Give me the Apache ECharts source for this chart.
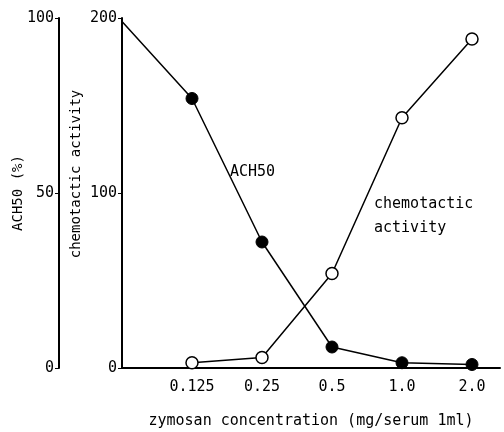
<!DOCTYPE html>
<html>
<head>
<meta charset="utf-8">
<script src="https://cdn.jsdelivr.net/npm/echarts@6/dist/echarts.min.js"></script>
<style>
  html, body { margin: 0; padding: 0; background: #fff; }
  #chart { width: 504px; height: 432px; }
</style>
</head>
<body>
<div id="chart"></div>
<script>
// x positions: 0 = no zymosan, 1..5 = the concentrations below
var concentrations = ['0.125', '0.25', '0.5', '1.0', '2.0'];
var ach50X = [0, 1, 2, 3, 4, 5];
var ach50 = [99, 77, 36, 6, 1.5, 1];
var chemoX = [1, 2, 3, 4, 5];
var chemotactic = [3, 6, 54, 143, 188];

var font = '"DejaVu Sans Mono", monospace';

var chart = echarts.init(document.getElementById('chart'));

var ach50Data = ach50X.map(function(x, i) {
    var item = { value: [x, ach50[i]] };
    if (x === 0) item.symbol = 'none';
    return item;
});
var chemoData = chemoX.map(function(x, i) {
    return [x, chemotactic[i]];
});

var axisLine = { show: true, lineStyle: { color: '#000', width: 2 } };

chart.setOption({
    animation: false,
    grid: { left: 122, right: 4, top: 18, bottom: 64, containLabel: false, outerBoundsMode: 'none' },
    xAxis: {
        type: 'value',
        min: 0,
        max: 5.4,
        interval: 1,
        axisLine: axisLine,
        axisTick: { show: false },
        splitLine: { show: false },
        axisLabel: {
            color: '#000',
            fontFamily: font,
            fontSize: 15,
            margin: 12,
            formatter: function(v) {
                if (v >= 1 && v <= 5 && v === Math.round(v)) return concentrations[v - 1];
                return '';
            }
        },
        name: 'zymosan concentration (mg/serum 1ml)',
        nameLocation: 'middle',
        nameGap: 46,
        nameMoveOverlap: false,
        nameTextStyle: { color: '#000', fontFamily: font, fontSize: 15 }
    },
    yAxis: [{
        type: 'value',
        min: 0,
        max: 200,
        interval: 100,
        position: 'left',
        axisLine: axisLine,
        axisTick: { show: true, length: 4, lineStyle: { color: '#000', width: 1 } },
        splitLine: { show: false },
        axisLabel: { color: '#000', fontFamily: font, fontSize: 15, margin: 5 },
        name: 'chemotactic activity',
        nameLocation: 'middle',
        nameGap: 39,
        nameMoveOverlap: false,
        nameTextStyle: { color: '#000', fontFamily: font, fontSize: 14, padding: [0, 0, 0, 38] }
    }, {
        type: 'value',
        min: 0,
        max: 100,
        interval: 50,
        position: 'left',
        offset: 63,
        axisLine: axisLine,
        axisTick: { show: true, length: 4, lineStyle: { color: '#000', width: 1 } },
        splitLine: { show: false },
        axisLabel: { color: '#000', fontFamily: font, fontSize: 15, margin: 5 },
        name: 'ACH50 (%)',
        nameLocation: 'middle',
        nameGap: 34,
        nameMoveOverlap: false,
        nameTextStyle: { color: '#000', fontFamily: font, fontSize: 14 }
    }],
    series: [{
        name: 'ACH50',
        type: 'line',
        yAxisIndex: 1,
        data: ach50Data,
        symbol: 'circle',
        symbolSize: 12,
        showAllSymbol: true,
        lineStyle: { color: '#000', width: 1.5 },
        itemStyle: { color: '#000', borderColor: '#000', borderWidth: 1 }
    }, {
        name: 'chemotactic activity',
        type: 'line',
        yAxisIndex: 0,
        data: chemoData,
        symbol: 'circle',
        symbolSize: 12,
        showAllSymbol: true,
        lineStyle: { color: '#000', width: 1.5 },
        itemStyle: { color: '#fff', borderColor: '#000', borderWidth: 1.5 }
    }],
    graphic: [{
        type: 'text',
        left: 230,
        top: 165,
        style: { text: 'ACH50', fill: '#000', font: '15px ' + font }
    }, {
        type: 'text',
        left: 374,
        top: 192,
        style: { text: 'chemotactic\nactivity', fill: '#000', font: '15px ' + font, lineHeight: 24 }
    }]
});
</script>
</body>
</html>
